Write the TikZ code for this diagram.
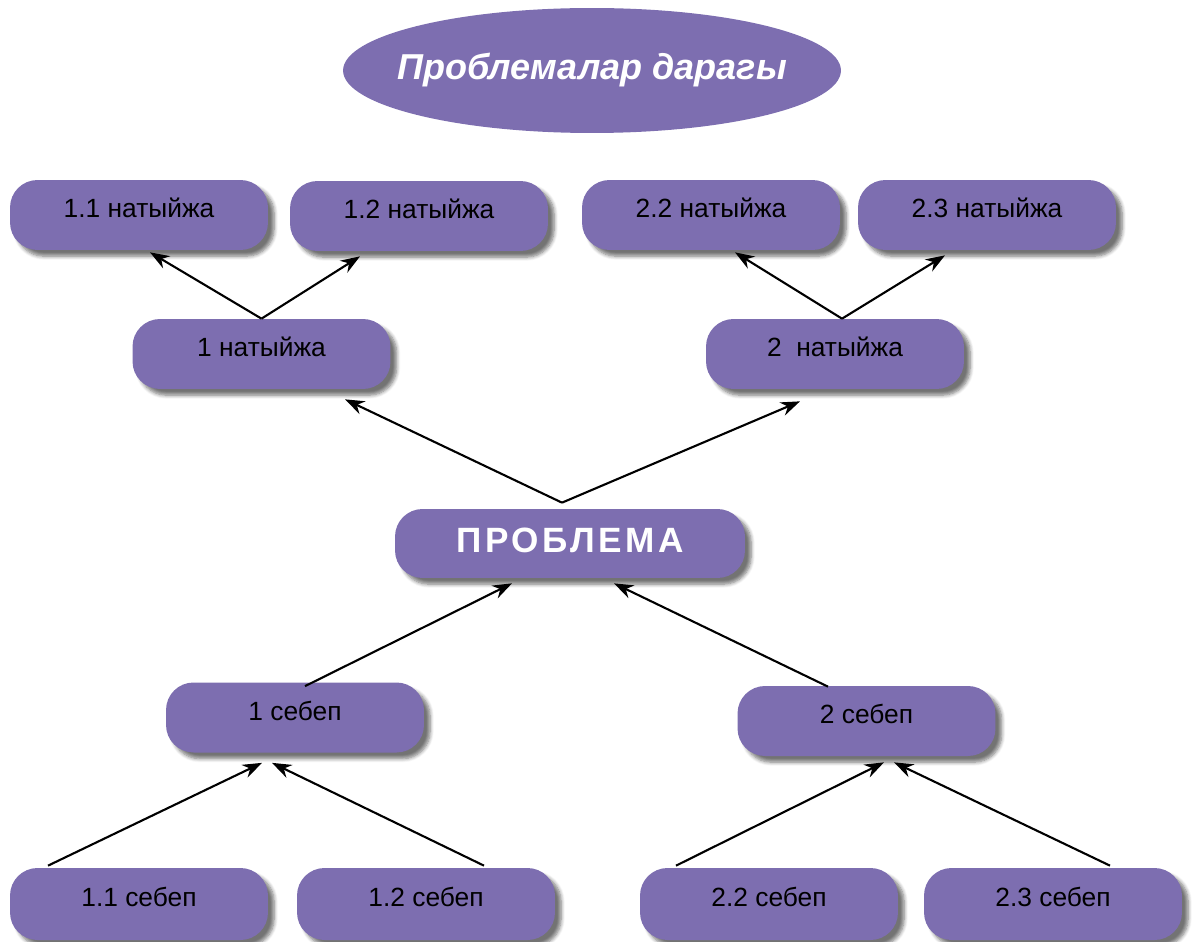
\documentclass[tikz,border=0pt]{standalone}
\usepackage{fontspec}
\setmainfont{Liberation Sans}
\usetikzlibrary{arrows.meta,calc,shapes.geometric,shadows.blur}
\definecolor{treeviolet}{RGB}{125,110,176}
\tikzset{
  box/.style={draw=none,fill=treeviolet,rounded corners=0.55cm,minimum width=5.16cm,minimum height=1.4cm,
    font=\fontsize{15}{17}\selectfont,text height=0.42cm,text depth=0.32cm,
    blur shadow={shadow xshift=3.5pt,shadow yshift=-3.5pt,shadow blur steps=6,shadow opacity=55}},
  arr/.style={line width=1.2pt,-{Stealth[length=11pt,width=8pt]}}
}
\begin{document}
\begin{tikzpicture}[x=0.02cm,y=-0.02cm]
\useasboundingbox (0,0) rectangle (1192,942);
% title
\node[ellipse,fill=treeviolet,inner sep=0pt,minimum width=9.96cm,minimum height=2.5cm,text=white,
  font=\fontsize{20.5}{24}\selectfont\bfseries\itshape](title) at (592,70.5) {\makebox[0pt]{Проблемалар дарагы}};
% results
\node[box](r11) at (139,215) {1.1 натыйжа};
\node[box](r12) at (419,216) {1.2 натыйжа};
\node[box](r22) at (711,215) {2.2 натыйжа};
\node[box](r23) at (987,215) {2.3 натыйжа};
\node[box](r1) at (261.5,354) {1 натыйжа};
\node[box](r2) at (835,354) {2\ \ натыйжа};
% problem
\node[box,minimum width=7cm,minimum height=1.38cm,text=white,text height=0.52cm,text depth=0.16cm,
  font=\fontsize{20}{23}\selectfont\bfseries\addfontfeature{LetterSpace=10}](prob) at (570,543.5) {ПРОБЛЕМА};
% causes
\node[box](c1) at (295,717.5) {1 себеп};
\node[box](c2) at (866.5,721) {2 себеп};
\node[box,minimum height=1.44cm](c11) at (139,904) {1.1 себеп};
\node[box,minimum height=1.44cm](c12) at (426,904) {1.2 себеп};
\node[box,minimum height=1.44cm](c22) at (769,904) {2.2 себеп};
\node[box,minimum height=1.44cm](c23) at (1053,904) {2.3 себеп};
% arrows
\draw[arr](r1.north)--($(r11.south)+(11,2)$);
\draw[arr](r1.north)--($(r12.south)+(-59,5)$);
\draw[arr]($(r2.north)+(7,0)$)--($(r22.south)+(24,2)$);
\draw[arr]($(r2.north)+(7,0)$)--($(r23.south)+(-42,5)$);
\draw[arr]($(prob.north)+(-8,-6)$)--($(r1.south)+(83.5,10)$);
\draw[arr]($(prob.north)+(-8,-6)$)--($(r2.south)+(-35,12)$);
\draw[arr]($(c1.north)+(10,4)$)--($(prob.south)+(-58,5)$);
\draw[arr]($(c2.north)+(-38.5,1)$)--($(prob.south)+(44,5)$);
\draw[arr]($(c11.north)+(-91,-2)$)--($(c1.south)+(-33,10)$);
\draw[arr]($(c12.north)+(58,-2)$)--($(c1.south)+(-23,10)$);
\draw[arr]($(c22.north)+(-93,-2)$)--($(c2.south)+(17.5,6)$);
\draw[arr]($(c23.north)+(57,-2)$)--($(c2.south)+(27.5,6)$);
\end{tikzpicture}
\end{document}
